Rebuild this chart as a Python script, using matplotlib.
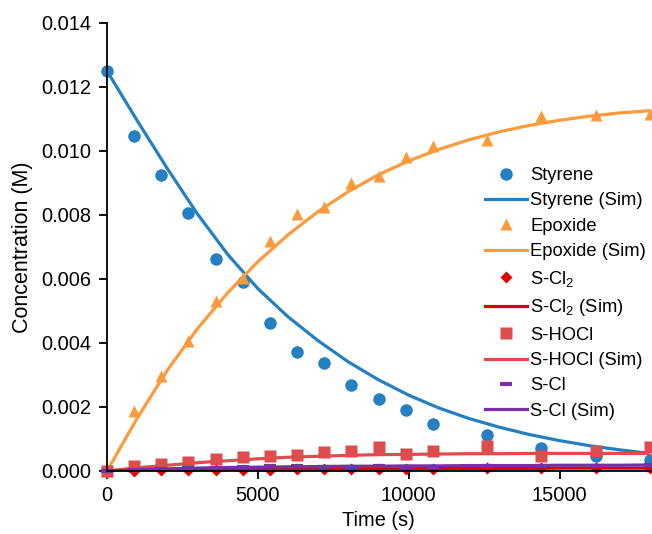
import matplotlib
matplotlib.use("Agg")
import matplotlib.pyplot as plt

plt.rcParams["font.family"] = ["Liberation Sans", "DejaVu Sans"]
plt.rcParams["mathtext.fontset"] = "custom"
plt.rcParams["mathtext.rm"] = "Liberation Sans"

# sampling times of the measured concentrations (s)
t_exp = [0, 900, 1800, 2700, 3600, 4500, 5400, 6300, 7200, 8100, 9000,
         9900, 10800, 12600, 14400, 16200, 18000]
styrene = [0.0125, 0.01047, 0.00925, 0.00806, 0.00663, 0.0059, 0.00462, 0.00372,
           0.00339, 0.00269, 0.00225, 0.0019, 0.00148, 0.00112, 0.00071, 0.00048, 0.00033]
epoxide = [0.0, 0.00187, 0.00298, 0.00407, 0.0053, 0.00603, 0.00719, 0.00804,
           0.00826, 0.009, 0.00923, 0.00982, 0.01016, 0.01034, 0.01108, 0.01114, 0.01116]
s_cl2 = [0.0, 0.00001, 0.00002, 0.00002, 0.00003, 0.00003, 0.00004, 0.00005,
         0.00005, 0.00006, 0.00006, 0.00007, 0.00007, 0.00008, 0.00008, 0.00009, 0.00009]
s_hocl = [0.0, 0.00015, 0.00022, 0.00027, 0.00037, 0.00044, 0.00048, 0.0005,
          0.00059, 0.00061, 0.00075, 0.00053, 0.00062, 0.00079, 0.00048, 0.00063, 0.00075]
s_cl = [0.0, 0.00004, 0.00006, 0.00008, 0.0001, 0.00011, 0.00015, 0.00016,
        0.00013, 0.00014, 0.00016, 0.00014, 0.00014, 0.00016, 0.00017, 0.00017, 0.00018]

# simulated profiles (s)
t_sim = [0, 1000, 2000, 3000, 4000, 5000, 6000, 7000, 8000, 9000, 10000,
         11000, 12000, 13000, 14000, 15000, 16000, 17000, 18000]
styrene_sim = [0.0125, 0.01095, 0.00945, 0.00803, 0.00677, 0.0057, 0.00482, 0.00407, 0.00341,
               0.00285, 0.00237, 0.00197, 0.00164, 0.00137, 0.00114, 0.00095, 0.00079, 0.00066, 0.00055]
epoxide_sim = [0.0, 0.00165, 0.00315, 0.00445, 0.00557, 0.00654, 0.00738, 0.00811, 0.00873,
               0.00926, 0.00969, 0.01005, 0.01035, 0.0106, 0.0108, 0.01096, 0.01109, 0.01119, 0.01126]
s_cl2_sim = [0.0, 0.00002, 0.00003, 0.00004, 0.00005, 0.00005, 0.00006, 0.00006, 0.00007,
             0.00007, 0.00007, 0.00008, 0.00008, 0.00008, 0.00008, 0.00009, 0.00009, 0.00009, 0.00009]
s_hocl_sim = [0.0, 0.0001, 0.00018, 0.00026, 0.00032, 0.00038, 0.00043, 0.00046, 0.00049,
              0.00051, 0.00052, 0.00053, 0.00054, 0.00054, 0.00055, 0.00055, 0.00055, 0.00055, 0.00055]
s_cl_sim = [0.0, 0.00004, 0.00007, 0.00009, 0.00011, 0.00012, 0.00013, 0.00014, 0.00015,
            0.00015, 0.00016, 0.00016, 0.00017, 0.00017, 0.00017, 0.00018, 0.00018, 0.00018, 0.00019]

BLUE = "#2480c0"
ORANGE = "#fd9a3c"
RED = "#e00000"
SALMON = "#e04b4d"
PURPLE = "#7a2fa6"

fig = plt.figure(figsize=(6.52, 5.34), dpi=100)
ax = fig.add_axes([107 / 652, 1 - 471 / 534, 543 / 652, 448 / 534])

lw = 2.3
ax.plot(t_exp, styrene, "o", color=BLUE, ms=9, mec="none", label="Styrene", clip_on=False)
ax.plot(t_sim, styrene_sim, "-", color=BLUE, lw=lw, label="Styrene (Sim)")
ax.plot(t_exp, epoxide, "^", color=ORANGE, ms=9, mec="none", label="Epoxide", clip_on=False)
ax.plot(t_sim, epoxide_sim, "-", color=ORANGE, lw=lw, label="Epoxide (Sim)")
ax.plot(t_exp, s_cl2, "D", color=RED, ms=6.5, mec="none", label=r"S-Cl$_\mathregular{2}$", clip_on=False)
ax.plot(t_sim, s_cl2_sim, "-", color=RED, lw=lw, label=r"S-Cl$_\mathregular{2}$ (Sim)")
ax.plot(t_exp, s_hocl, "s", color=SALMON, ms=8, mec="none", label="S-HOCl", clip_on=False)
ax.plot(t_sim, s_hocl_sim, "-", color=SALMON, lw=lw, label="S-HOCl (Sim)")
ax.plot(t_exp, s_cl, "_", color=PURPLE, ms=9, mew=3, label="S-Cl", clip_on=False)
ax.plot(t_sim, s_cl_sim, "-", color=PURPLE, lw=lw, label="S-Cl (Sim)")

ax.set_xlim(0, 18000)
ax.set_ylim(0, 0.014)
ax.set_xticks([0, 5000, 10000, 15000])
ax.set_yticks([0.0, 0.002, 0.004, 0.006, 0.008, 0.010, 0.012, 0.014])
ax.yaxis.set_major_formatter(matplotlib.ticker.FormatStrFormatter("%.3f"))

for side in ("top", "right"):
    ax.spines[side].set_visible(False)
for side in ("left", "bottom"):
    ax.spines[side].set_linewidth(1.3)
    ax.spines[side].set_color("black")
ax.tick_params(direction="out", length=6, width=1.3, labelsize=14.4, pad=5)

ax.set_xlabel("Time (s)", fontsize=14.4, labelpad=4)
ax.set_ylabel("Concentration (M)", fontsize=15.5, labelpad=6)

ax.legend(loc="upper left", bbox_to_anchor=(485 / 652, 1 - 167 / 534),
          bbox_transform=fig.transFigure, frameon=False, fontsize=13.2,
          handlelength=2.3, handletextpad=0.16, labelspacing=0.46,
          borderpad=0, borderaxespad=0)

fig.savefig("out.png", dpi=100)
